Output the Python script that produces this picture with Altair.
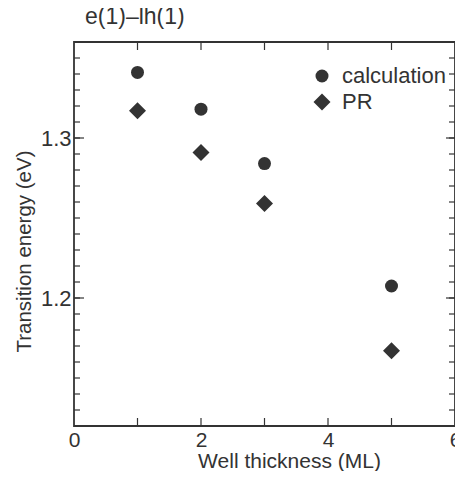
import altair as alt
import pandas as pd

# ---- data ----
thickness = [1, 2, 3, 5]
calculation = [1.341, 1.318, 1.284, 1.2075]
pr = [1.317, 1.291, 1.259, 1.167]
series_names = ["calculation", "PR"]

x_label_values = [0, 2, 4, 6]
x_tick_values = [1, 2, 3, 4, 5]
y_label_values = [1.2, 1.3]
y_minor_values = [round(1.12 + 0.01 * i, 2) for i in range(1, 24)]

FONT = "Liberation Sans"
INK = "#333333"
W, H = 381, 384

pts = pd.DataFrame({
    "thickness": thickness * 2,
    "energy": calculation + pr,
    "series": [series_names[0]] * len(calculation) + [series_names[1]] * len(pr),
})
ymin = pd.DataFrame({"energy": y_minor_values})
ymaj = pd.DataFrame({"energy": y_label_values})
xt = pd.DataFrame({"thickness": x_tick_values})

xs = alt.Scale(domain=[0, 6], nice=False, zero=False)
ys = alt.Scale(domain=[1.12, 1.36], nice=False, zero=False)

x_axis = alt.Axis(values=x_label_values, title="Well thickness (ML)", ticks=False, domain=False,
                  grid=False, labelPadding=3, titlePadding=0, titleX=215, labelFlush=False,
                  labelFontSize=21, titleFontSize=21)
y_axis = alt.Axis(values=y_label_values, format=".1f", title="Transition energy (eV)", ticks=False,
                  domain=False, grid=False, labelPadding=3, titlePadding=6, titleY=209,
                  labelFontSize=22, titleFontSize=20.5)

legend_cfg = dict(
    orient="none", legendX=237, legendY=23, title=None, padding=0,
    labelFont=FONT, labelFontSize=22, labelColor=INK, labelOffset=9,
    rowPadding=4, symbolFillColor=INK, symbolStrokeColor=INK, symbolStrokeWidth=0,
)

points = alt.Chart(pts).mark_point(filled=True, opacity=1, color=INK, strokeWidth=0).encode(
    x=alt.X("thickness:Q", scale=xs, axis=x_axis),
    y=alt.Y("energy:Q", scale=ys, axis=y_axis),
    shape=alt.Shape("series:N", scale=alt.Scale(domain=series_names, range=["circle", "diamond"]),
                    legend=alt.Legend(**legend_cfg)),
    size=alt.Size("series:N", scale=alt.Scale(domain=series_names, range=[169, 290]),
                  legend=alt.Legend(**legend_cfg)),
)

def yrule(df, x0, x1):
    return alt.Chart(df).mark_rule(color=INK, strokeWidth=1.2).encode(
        y=alt.Y("energy:Q", scale=ys, axis=y_axis), x=alt.value(x0), x2=alt.value(x1))

def xrule(df, y0, y1):
    return alt.Chart(df).mark_rule(color=INK, strokeWidth=1.2).encode(
        x=alt.X("thickness:Q", scale=xs, axis=x_axis), y=alt.value(y0), y2=alt.value(y1))

chart = alt.layer(
    points,
    yrule(ymin, 0, 6), yrule(ymaj, 0, 10),
    yrule(ymin, W - 6, W), yrule(ymaj, W - 9, W),
    xrule(xt, 0, 8), xrule(xt, H - 8, H),
).properties(
    width=W, height=H,
    background="white",
    title=alt.TitleParams("e(1)–lh(1)", anchor="start", frame="group", dx=11, offset=12,
                          fontSize=23, font=FONT, fontWeight="normal", color=INK),
    autosize=alt.AutoSizeParams(type="none"),
    padding={"left": 66, "top": 34, "right": 0, "bottom": 45},
).configure_view(stroke=INK, strokeWidth=1.8).configure_axis(
    labelFont=FONT, labelColor=INK,
    titleFont=FONT, titleColor=INK, titleFontWeight="normal",
)

chart.save("out.html", embed_options={"renderer": "svg", "actions": False})
